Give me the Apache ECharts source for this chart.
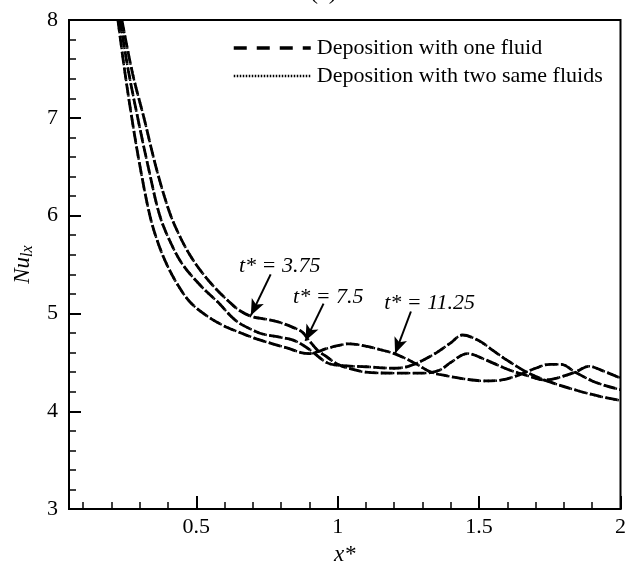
<!DOCTYPE html>
<html>
<head>
<meta charset="utf-8">
<script src="https://cdn.jsdelivr.net/npm/echarts@6/dist/echarts.min.js"></script>
<style>html,body{margin:0;padding:0;background:#fff}#c{width:629px;height:571px}</style>
</head>
<body>
<div id="c"></div>
<script>
// ---- data ----
const seriesNames = ['Deposition with one fluid', 'Deposition with two same fluids'];
const xMajorTicks = [0.5, 1, 1.5, 2];
const xMinorTicks = [0.1, 0.2, 0.3, 0.4, 0.6, 0.7, 0.8, 0.9, 1.1, 1.2, 1.3, 1.4, 1.6, 1.7, 1.8, 1.9];
// curve that is lowest in the steep part
const curveA = [[0.223,8.0],[0.245,7.52],[0.272,7.0],[0.3,6.52],[0.336,6.0],[0.365,5.72],[0.396,5.5],[0.435,5.29],[0.477,5.12],[0.53,4.99],[0.593,4.88],[0.65,4.81],[0.713,4.74],[0.77,4.69],[0.829,4.64],[0.87,4.6],[0.9,4.59],[0.93,4.61],[0.96,4.64],[1.0,4.67],[1.04,4.69],[1.1,4.665],[1.15,4.63],[1.2,4.59],[1.24,4.54],[1.28,4.48],[1.33,4.4],[1.39,4.36],[1.45,4.33],[1.52,4.31],[1.58,4.32],[1.64,4.37],[1.7,4.44],[1.75,4.48],[1.79,4.48],[1.84,4.40],[1.9,4.31],[1.95,4.26],[2.0,4.22]];
// middle curve in the steep part
const curveB = [[0.23,8.0],[0.26,7.48],[0.293,7.0],[0.33,6.5],[0.371,6.0],[0.41,5.72],[0.452,5.5],[0.52,5.27],[0.582,5.1],[0.62,4.98],[0.653,4.9],[0.7,4.83],[0.734,4.79],[0.79,4.76],[0.84,4.73],[0.875,4.68],[0.91,4.61],[0.96,4.5],[1.0,4.47],[1.1,4.455],[1.2,4.44],[1.25,4.46],[1.3,4.52],[1.35,4.6],[1.4,4.7],[1.441,4.78],[1.5,4.72],[1.55,4.62],[1.6,4.52],[1.675,4.39],[1.75,4.3],[1.85,4.21],[1.93,4.15],[2.0,4.11]];
// curve that is highest in the steep part
const curveC = [[0.237,8.0],[0.275,7.45],[0.315,7.0],[0.36,6.47],[0.406,6.03],[0.44,5.8],[0.477,5.6],[0.52,5.42],[0.57,5.25],[0.62,5.11],[0.653,5.03],[0.695,4.97],[0.75,4.94],[0.794,4.91],[0.84,4.86],[0.875,4.81],[0.9,4.72],[0.93,4.62],[0.96,4.56],[1.0,4.48],[1.05,4.43],[1.1,4.4],[1.2,4.39],[1.3,4.39],[1.36,4.42],[1.4,4.5],[1.459,4.59],[1.52,4.53],[1.6,4.43],[1.675,4.36],[1.73,4.32],[1.775,4.34],[1.84,4.40],[1.888,4.46],[1.94,4.41],[2.0,4.34]];
const annotationTexts = ['t* = 3.75', 't* = 7.5', 't* = 11.25'];
const annotationTextPos = [[0.795,5.485],[0.967,5.17],[1.325,5.10]];
const arrowFrom = [[0.763,5.40],[0.95,5.10],[1.259,5.02]];
const arrowTo = [[0.693,4.98],[0.886,4.72],[1.203,4.59]];

const FONT = 'Liberation Serif';
const curves = [curveA, curveB, curveC];
const series = [];
curves.forEach(function (c) {
  series.push({
    name: seriesNames[0], type: 'line', data: c, showSymbol: false, symbol: 'none',
    smooth: 0.35, z: 2,
    lineStyle: { color: '#000', width: 2.8, type: [12, 4] }
  });
});
curves.forEach(function (c) {
  series.push({
    name: seriesNames[1], type: 'line', data: c, showSymbol: false, symbol: 'none',
    smooth: 0.35, z: 3,
    lineStyle: { color: '#000', width: 2.4, type: [1.5, 2.5] }
  });
});
series.push({
  name: 'annotations', type: 'line', data: [], silent: true,
  markLine: {
    silent: true, animation: false,
    symbol: ['none', 'arrow'], symbolSize: [10, 16],
    lineStyle: { color: '#000', width: 2, type: 'solid' },
    label: { show: false },
    data: arrowFrom.map(function (f, i) { return [{ coord: f }, { coord: arrowTo[i] }]; })
  },
  markPoint: {
    silent: true, animation: false, symbolSize: 0,
    label: { show: true, position: 'inside', formatter: '{b}', color: '#000',
      fontFamily: FONT, fontStyle: 'italic', fontSize: 22 },
    data: annotationTexts.map(function (t, i) { return { name: t, coord: annotationTextPos[i] }; })
  }
});

const chart = echarts.init(document.getElementById('c'), null, { renderer: 'canvas' });
const hiddenSymbol = { color: 'rgba(0,0,0,0)', borderColor: 'rgba(0,0,0,0)', borderWidth: 0, opacity: 0 };
chart.setOption({
  animation: false,
  backgroundColor: '#fff',
  graphic: [{ type: 'text', left: 310, top: -19, style: { text: '(c)', font: '24px "Liberation Serif"', fill: '#000' } }],
  grid: { left: 69, right: 5, top: 20, bottom: 48, show: true, borderColor: '#000', borderWidth: 2 },
  legend: {
    orient: 'vertical', left: 232, top: 37, padding: 0, itemGap: 6, itemWidth: 77, itemHeight: 14,
    textStyle: { fontFamily: FONT, fontSize: 22, color: '#000', padding: [0, 0, 0, 1] },
    data: [
      { name: seriesNames[0], itemStyle: hiddenSymbol, lineStyle: { color: '#000', width: 3.5, type: [13, 10] } },
      { name: seriesNames[1], itemStyle: hiddenSymbol, lineStyle: { color: '#000', width: 2.5, type: [1.5, 1.5] } }
    ]
  },
  xAxis: [{
    type: 'value', min: 0.05, max: 2, position: 'bottom',
    axisLine: { show: true, lineStyle: { color: '#000', width: 2 } },
    axisTick: { show: true, inside: true, length: 13, customValues: xMajorTicks, lineStyle: { color: '#000', width: 2 } },
    axisLabel: { customValues: xMajorTicks, color: '#000', fontFamily: FONT, fontSize: 22, margin: 7 },
    splitLine: { show: false },
    name: 'x*', nameLocation: 'middle', nameGap: 30,
    nameTextStyle: { fontFamily: FONT, fontStyle: 'italic', fontSize: 23, color: '#000' }
  }, {
    type: 'value', min: 0.05, max: 2, position: 'bottom', gridIndex: 0,
    axisLine: { show: false },
    axisTick: { show: true, inside: true, length: 7, customValues: xMinorTicks, lineStyle: { color: '#000', width: 1.5 } },
    axisLabel: { show: false }, splitLine: { show: false }
  }],
  yAxis: {
    type: 'value', min: 3, max: 8, interval: 1,
    axisLine: { show: true, lineStyle: { color: '#000', width: 2 } },
    axisTick: { show: true, inside: true, length: 12, lineStyle: { color: '#000', width: 2 } },
    minorTick: { show: true, splitNumber: 5, length: 7, lineStyle: { color: '#000', width: 1.5 } },
    axisLabel: { color: '#000', fontFamily: FONT, fontSize: 22, margin: 11 },
    splitLine: { show: false },
    name: '{a|Nu}{b|lx}', nameLocation: 'middle', nameGap: 29, nameRotate: 90,
    nameTextStyle: {
      rich: {
        a: { fontFamily: FONT, fontStyle: 'italic', fontSize: 23, color: '#000' },
        b: { fontFamily: FONT, fontStyle: 'italic', fontSize: 16, color: '#000', padding: [10, 0, 0, 0] }
      }
    }
  },
  series: series
});
</script>
</body>
</html>
